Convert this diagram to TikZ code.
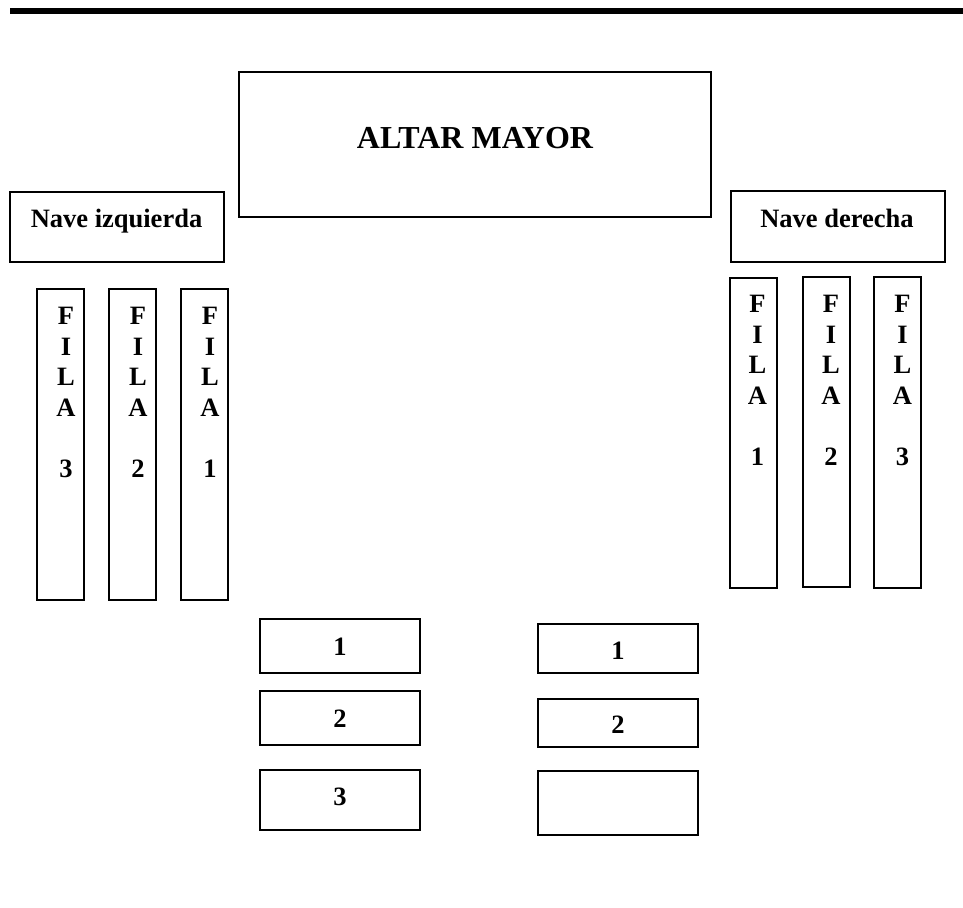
\documentclass[tikz,border=0pt]{standalone}
\usepackage{fontspec}
\setmainfont{Liberation Serif}
\begin{document}
\begin{tikzpicture}[x=1pt,y=-1pt,
  boxst/.style={draw, line width=2pt, rectangle, inner sep=0pt, anchor=center},
  lbl/.style={font=\fontsize{26.5}{30.5}\selectfont\bfseries, inner sep=0pt, anchor=base},
  bigl/.style={font=\fontsize{32}{37}\selectfont\bfseries, inner sep=0pt, anchor=base},
  vlbl/.style={font=\fontsize{26.5}{30.5}\selectfont\bfseries, inner sep=0pt, anchor=north, align=center},
  colst/.style={boxst, minimum width=47pt, minimum height=311pt}]
\useasboundingbox (0,0) rectangle (963,907);
% top bar
\draw[line width=6pt] (10,11) -- (963,11);
% altar
\node[boxst, minimum width=472pt, minimum height=145pt] (altar) at (475,144.5) {};
\node[bigl] (altart) at (475,148) {ALTAR MAYOR};
% naves
\node[boxst, minimum width=214pt, minimum height=70pt] (navei) at (117,227) {};
\node[lbl] (naveit) at (116.5,227) {Nave izquierda};
\node[boxst, minimum width=214pt, minimum height=71pt] (naved) at (838,226.5) {};
\node[lbl] (navedt) at (837,227) {Nave derecha};
% left filas
\node[colst] (li3) at (60.5,444.5) {};
\node[colst] (li2) at (132.5,444.5) {};
\node[colst] (li1) at (204.5,444.5) {};
\node[vlbl] (li3t) at (66,307) {F\\I\\L\\A\\[30.5pt]3};
\node[vlbl] (li2t) at (138,307) {F\\I\\L\\A\\[30.5pt]2};
\node[vlbl] (li1t) at (210,307) {F\\I\\L\\A\\[30.5pt]1};
% right filas
\node[colst, minimum height=310pt] (rd1) at (753.5,433) {};
\node[colst, minimum height=310pt] (rd2) at (826,432) {};
\node[colst, minimum height=311pt] (rd3) at (897.5,432.5) {};
\node[vlbl] (rd1t) at (757.5,295) {F\\I\\L\\A\\[30.5pt]1};
\node[vlbl] (rd2t) at (831,295) {F\\I\\L\\A\\[30.5pt]2};
\node[vlbl] (rd3t) at (902.5,295) {F\\I\\L\\A\\[30.5pt]3};
% bottom left benches
\node[boxst, minimum width=160pt, minimum height=54pt] (bl1) at (340,646) {};
\node[boxst, minimum width=160pt, minimum height=54pt] (bl2) at (340,718) {};
\node[boxst, minimum width=160pt, minimum height=60pt] (bl3) at (340,800) {};
\node[lbl] (bl1t) at (340,655.5) {1};
\node[lbl] (bl2t) at (340,727) {2};
\node[lbl] (bl3t) at (340,805) {3};
% bottom right benches
\node[boxst, minimum width=160pt, minimum height=49pt] (br1) at (618,648.5) {};
\node[boxst, minimum width=160pt, minimum height=48pt] (br2) at (618,723) {};
\node[boxst, minimum width=160pt, minimum height=64pt] (br3) at (618,803) {};
\node[lbl] (br1t) at (618,659) {1};
\node[lbl] (br2t) at (618,733) {2};
\end{tikzpicture}
\end{document}
